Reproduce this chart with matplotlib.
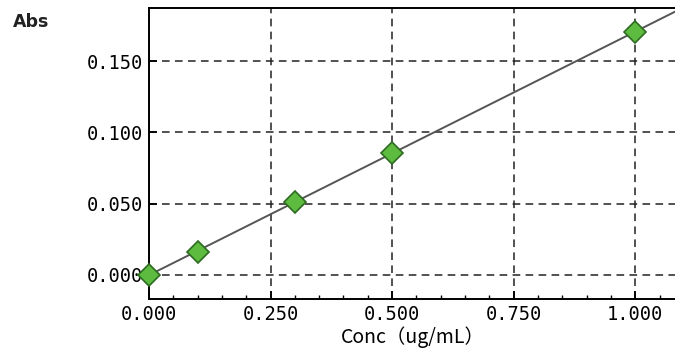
import numpy as np
import matplotlib.pyplot as plt
from matplotlib.ticker import MultipleLocator, FixedLocator

conc = [0.0, 0.1, 0.3, 0.5, 1.0]
absb = [0.0, 0.0162, 0.0514, 0.0859, 0.1704]
xticks = [0.0, 0.25, 0.5, 0.75, 1.0]
yticks = [0.0, 0.05, 0.10, 0.15]
xlabels = ['0.000', '0.250', '0.500', '0.750', '1.000']
ylabels = ['0.000', '0.050', '0.100', '0.150']

# calibration line from the standards
slope, icpt = np.polyfit(conc, absb, 1)

fig = plt.figure(figsize=(6.75, 3.59), dpi=100)
ax = fig.add_axes([149/675, 1 - 299/359, 1 - 149/675 + 0.003, (299 - 8)/359])

xl = np.array([0.0, 1.09])
ax.plot(xl, icpt + slope*xl, color='#555555', lw=1.4, zorder=2)
ax.plot(conc, absb, 'D', ms=11, mfc='#5dbb3f', mec='#2e6b22', mew=1.2,
        zorder=3, clip_on=False)

ax.set_xlim(0, 1.086)
ax.set_ylim(-0.0169, 0.1873)

ax.xaxis.set_major_locator(FixedLocator(xticks))
ax.xaxis.set_minor_locator(MultipleLocator(0.05))
ax.yaxis.set_major_locator(FixedLocator(yticks))
ax.set_xticklabels(xlabels, family='DejaVu Sans Mono', fontsize=13.5)
ax.set_yticklabels(ylabels, family='DejaVu Sans Mono', fontsize=13.5)
ax.tick_params(axis='both', which='major', direction='in', length=6, width=1.3,
               color='black', pad=4)
ax.tick_params(axis='x', which='minor', direction='in', length=3, width=1.0)

ax.grid(True, which='major', color='#222222', lw=1.1, linestyle=(0, (5, 3.5)))
ax.set_axisbelow(True)
for s in ['left', 'bottom', 'top']:
    ax.spines[s].set_linewidth(1.4)
ax.spines['right'].set_visible(False)

ax.set_xlabel('Conc（ug/mL）', family=['Noto Sans CJK JP', 'DejaVu Sans'],
              fontsize=14, labelpad=2)
fig.text(31/675, 1 - 22/359, 'Abs', ha='center', va='center',
         fontsize=12.5, fontweight='bold', color='#222222')

fig.savefig('out.png', dpi=100)
